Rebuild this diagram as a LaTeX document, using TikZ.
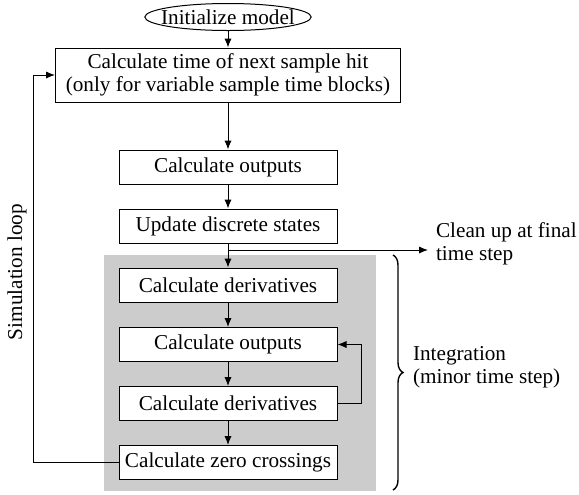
\documentclass[tikz,border=0pt]{standalone}
\usepackage{fontspec}
\setmainfont{Liberation Serif}
\usetikzlibrary{shapes.geometric, arrows.meta, decorations.pathreplacing}
\tikzset{
    stepbox/.style={draw, fill=white, line width=0.5pt, minimum width=109pt, minimum height=17pt, inner sep=0pt, align=center},
    startnode/.style={draw, ellipse, fill=white, line width=0.5pt, minimum width=82pt, minimum height=13.5pt, inner xsep=-4pt, inner ysep=-0.5pt},
    flow/.style={-{Latex[length=4.5pt, width=3.6pt]}, line width=0.5pt},
    sidelabel/.style={align=left, anchor=west}
}

\begin{document}
\begin{tikzpicture}[x=0.5pt, y=-0.5pt, font=\fontsize{10.6}{11.5}\selectfont]
    \useasboundingbox (0,0) rectangle (579,494);
    % integration area
    \fill[black!20] (104,255) rectangle (376,491);

    \node[startnode] (init) at (228,17) {Initialize model};
    \node[stepbox, minimum width=172.5pt, minimum height=27pt] (hit) at (228,75)
        {Calculate time of next sample hit\\(only for variable sample time blocks)};
    \node[stepbox] (out1) at (228,167) {Calculate outputs};
    \node[stepbox] (upd) at (228,226) {Update discrete states};
    \node[stepbox] (der1) at (228,285) {Calculate derivatives};
    \node[stepbox] (out2) at (228,344.5) {Calculate outputs};
    \node[stepbox] (der2) at (228,403.5) {Calculate derivatives};
    \node[stepbox] (zero) at (228,462.5) {Calculate zero crossings};

    \draw[flow] (init) -- (hit);
    \draw[flow] (hit) -- (out1);
    \draw[flow] (out1) -- (upd);
    \draw[flow] (upd) -- (der1);
    \draw[flow] (der1) -- (out2);
    \draw[flow] (out2) -- (der2);
    \draw[flow] (der2) -- (zero);

    % exit at final time step
    \coordinate (fork) at (228,250);
    \coordinate (exit) at (428,250);
    \draw[flow] (fork) -- (exit);
    \node[sidelabel] (cleanup) at (429,244) {Clean up at final\\time step};

    % minor step loop
    \draw[flow] (der2.east) -- ++(24,0) |- (out2.east);

    % simulation loop
    \draw[flow] (zero.west) -- ++(-85,0) |- (hit.west);
    \node[rotate=90] (simloop) at (17,272) {Simulation loop};

    % integration brace
    \coordinate (bracetop) at (393,255);
    \coordinate (bracebot) at (393,490);
    \draw[line width=0.7pt, decorate, decoration={brace, amplitude=5pt}] (bracetop) -- (bracebot);
    \node[sidelabel] (integ) at (406,367) {Integration\\(minor time step)};
\end{tikzpicture}
\end{document}
